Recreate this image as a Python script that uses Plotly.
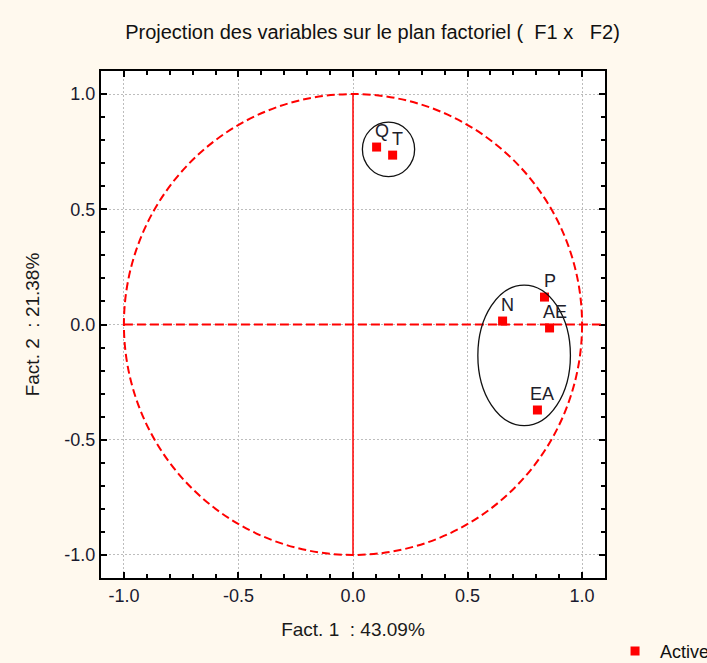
import plotly.graph_objects as go

# Data
var_names = ["Q", "T", "N", "P", "AE", "EA"]
fact1 = [0.103, 0.173, 0.653, 0.836, 0.858, 0.805]
fact2 = [0.770, 0.735, 0.015, 0.119, -0.015, -0.371]

tick_vals = [-1.0, -0.5, 0.0, 0.5, 1.0]
tick_text = ["-1.0", "-0.5", "0.0", "0.5", "1.0"]

# Grouping ellipses: center x, center y, radius x, radius y
ell_cx = [0.155, 0.747]
ell_cy = [0.760, -0.134]
ell_rx = [0.114, 0.202]
ell_ry = [0.118, 0.305]

title_text = "Projection des variables sur le plan factoriel (&nbsp; F1 x &nbsp; F2)"
xlab = "Fact. 1 &nbsp;: 43.09%"
ylab = "Fact. 2 &nbsp;: 21.38%"

FONT = "Liberation Sans, Arial, sans-serif"
BG = "#FFF9EE"
TXT = "#1a1a2e"

fig = go.Figure()
fig.add_trace(go.Scatter(
    x=fact1, y=fact2, mode="markers", name="Active",
    marker=dict(symbol="square", size=9, color="#FF0000"),
    showlegend=True,
))

shapes = []
# unit circle
shapes.append(dict(type="circle", xref="x", yref="y", x0=-1, y0=-1, x1=1, y1=1,
                   line=dict(color="#FF0000", width=2, dash="8px,4px"), layer="above"))
# horizontal axis line (dashed)
shapes.append(dict(type="line", xref="x", yref="y", x0=-1, x1=1.1, y0=0, y1=0,
                   line=dict(color="#FF0000", width=2, dash="9px,4px"), layer="above"))
# vertical axis line (solid)
shapes.append(dict(type="line", xref="x", yref="y", x0=0, x1=0, y0=-1, y1=1,
                   line=dict(color="#FF0000", width=1.5), layer="above"))
for cx, cy, rx, ry in zip(ell_cx, ell_cy, ell_rx, ell_ry):
    shapes.append(dict(type="circle", xref="x", yref="y",
                       x0=cx - rx, x1=cx + rx, y0=cy - ry, y1=cy + ry,
                       line=dict(color="#111111", width=1.3), layer="above"))

annotations = []
for name, xv, yv in zip(var_names, fact1, fact2):
    annotations.append(dict(x=xv, y=yv, text=name, showarrow=False,
                            xshift=5, yshift=16,
                            font=dict(family=FONT, size=18, color="#20202a")))

axis_common = dict(
    range=[-1.1, 1.1], tickvals=tick_vals, ticktext=tick_text,
    showgrid=True, gridcolor="#BDBDBD", griddash="2px,2px", gridwidth=1,
    zeroline=False, showline=True, linecolor="black", linewidth=2,
    mirror="ticks", ticks="inside", ticklen=6, tickwidth=2, tickcolor="black",
    minor=dict(dtick=0.1, ticks="inside", ticklen=4, tickwidth=1.5,
               tickcolor="black", showgrid=False),
    tickfont=dict(family=FONT, size=18, color=TXT),
    title_font=dict(family=FONT, size=19, color="#1a1a1a"),
)

fig.update_layout(
    width=707, height=663,
    paper_bgcolor=BG, plot_bgcolor="white",
    margin=dict(l=101, r=102, t=71, b=85, autoexpand=False),
    title=dict(text=title_text, x=372.5 / 707, xref="container", xanchor="center",
               y=1 - 32 / 663, yref="container", yanchor="middle",
               font=dict(family=FONT, size=20, color="#111111")),
    xaxis=dict(**axis_common, title=dict(text=xlab, standoff=18)),
    yaxis=dict(**axis_common, title=dict(text=ylab, standoff=20)),
    shapes=shapes,
    annotations=annotations,
    showlegend=True,
    legend=dict(x=1.01, y=-0.108, xanchor="left", yanchor="top",
                bgcolor="rgba(0,0,0,0)", itemwidth=40,
                font=dict(family=FONT, size=18, color="#111111")),
    font=dict(family=FONT),
)

fig.write_html("out.html")
